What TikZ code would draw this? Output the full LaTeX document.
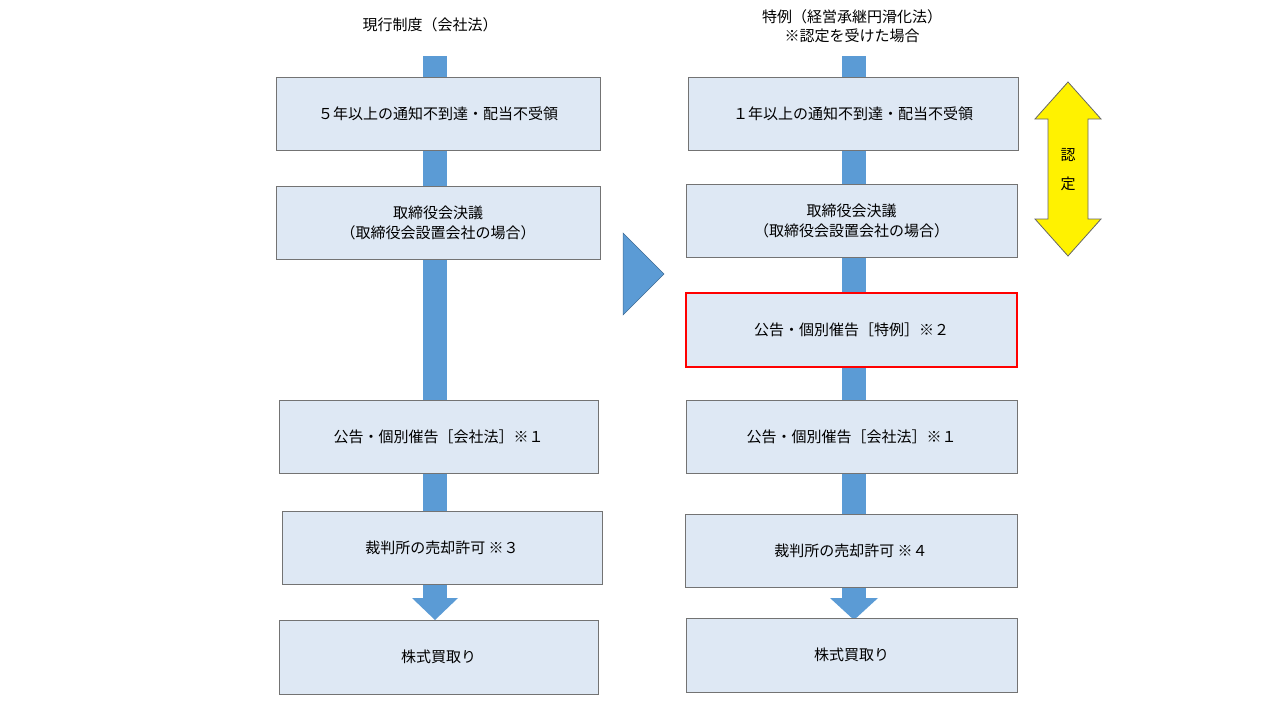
\documentclass[tikz,border=0pt]{standalone}
\usepackage{fontspec}
\setmainfont{Noto Sans CJK JP}
\usetikzlibrary{shapes.arrows}
\definecolor{boxfill}{HTML}{DEE8F4}
\definecolor{barcol}{HTML}{5B9BD5}
\begin{document}
\begin{tikzpicture}[x=1pt,y=-1pt,
  stepbox/.style={draw=black!55,fill=boxfill,line width=0.8pt,align=center,font=\fontsize{15}{20}\selectfont,inner sep=0pt},
  lbl/.style={align=center,font=\fontsize{15}{19}\selectfont}]
\useasboundingbox (0,0) rectangle (1280,720);
% bars
\fill[barcol] (423,56) rectangle (447,598);
\fill[barcol] (412,598) -- (458,598) -- (435,620) -- cycle;
\fill[barcol] (842,56) rectangle (866,598);
\fill[barcol] (830,598) -- (878,598) -- (854,620) -- cycle;
% titles
\node[lbl] (t1) at (430,25) {現行制度（会社法）};
\node[lbl] (t2) at (852,26) {特例（経営承継円滑化法）\\※認定を受けた場合};
% left boxes
\node[stepbox,minimum width=324,minimum height=73] (l1) at (438,113.5) {５年以上の通知不到達・配当不受領};
\node[stepbox,minimum width=324,minimum height=73] (l2) at (438,222.5) {取締役会決議\\（取締役会設置会社の場合）};
\node[stepbox,minimum width=319,minimum height=73] (l3) at (438.5,436.5) {公告・個別催告［会社法］※１};
\node[stepbox,minimum width=320,minimum height=73] (l4) at (442,547.5) {裁判所の売却許可 ※３};
\node[stepbox,minimum width=319,minimum height=74] (l5) at (438.5,657) {株式買取り};
% right boxes
\node[stepbox,minimum width=330,minimum height=73] (r1) at (853,113.5) {１年以上の通知不到達・配当不受領};
\node[stepbox,minimum width=331,minimum height=73] (r2) at (851.5,220.5) {取締役会決議\\（取締役会設置会社の場合）};
\node[stepbox,draw=red,line width=2.4pt,minimum width=331,minimum height=74] (r3) at (851.5,330) {公告・個別催告［特例］※２};
\node[stepbox,minimum width=331,minimum height=73] (r4) at (851.5,436.5) {公告・個別催告［会社法］※１};
\node[stepbox,minimum width=332,minimum height=73] (r5) at (851,550.5) {裁判所の売却許可 ※４};
\node[stepbox,minimum width=331,minimum height=74] (r6) at (851.5,655) {株式買取り};
% triangle
\fill[barcol,draw=barcol!70!black,line width=0.5pt] (623,233) -- (664,274) -- (623,315) -- cycle;
% yellow double arrow
\draw[fill=yellow,draw=black!60,line width=0.8pt] (1068,82) -- (1101,119) -- (1088,119) -- (1088,219) -- (1101,219) -- (1068,256) -- (1035,219) -- (1048,219) -- (1048,119) -- (1035,119) -- cycle;
\node[lbl] (y1) at (1068,155) {認};
\node[lbl] (y2) at (1068,184) {定};
\end{tikzpicture}
\end{document}
